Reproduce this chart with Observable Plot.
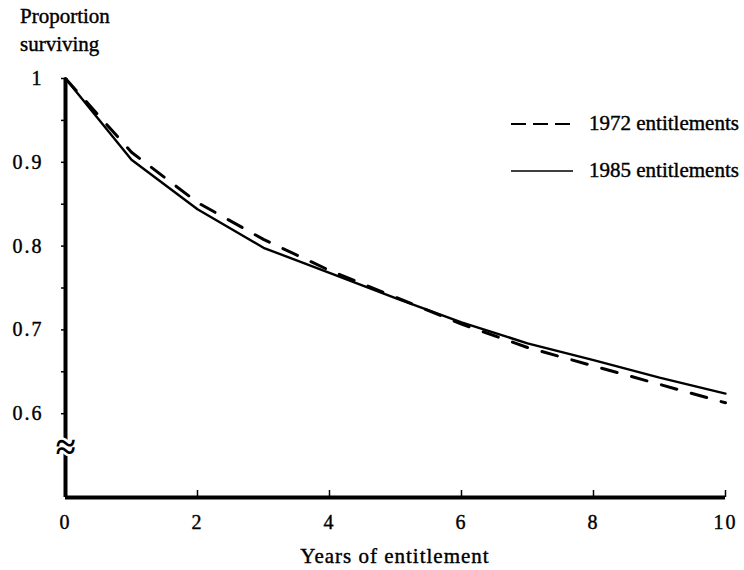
<!DOCTYPE html>
<html>
<head>
<meta charset="utf-8">
<script src="https://cdn.jsdelivr.net/npm/d3@7"></script>
<script src="https://cdn.jsdelivr.net/npm/@observablehq/plot@0.6"></script>
<style>
  html, body { margin: 0; padding: 0; background: #fff; }
  #wrap { position: relative; width: 744px; height: 570px; font-family: "Liberation Serif", "DejaVu Serif", serif; color: #000; }
  .ov { position: absolute; white-space: nowrap; font-size: 21px; line-height: 1; -webkit-text-stroke: 0.4px #000; }
</style>
</head>
<body>
<div id="wrap"></div>
<script>
// ---- data ----
const years = [0, 1, 2, 3, 4, 5, 6, 7, 8, 9, 10];
const ent1972 = [1.0, 0.912, 0.852, 0.808, 0.771, 0.739, 0.707, 0.679, 0.657, 0.635, 0.613];
const ent1985 = [1.0, 0.903, 0.844, 0.798, 0.768, 0.738, 0.709, 0.684, 0.664, 0.643, 0.624];
const seriesNames = ["1972 entitlements", "1985 entitlements"];
const xTicks = [0, 2, 4, 6, 8, 10];
const yMajorTicks = [0.6, 0.7, 0.8, 0.9, 1];
const yMinorTicks = [0.65, 0.75, 0.85, 0.95];
const yBreak = [0.56];
const yTitle = ["Proportion", "surviving"];
const xTitle = "Years of entitlement";

const rows = [];
years.forEach((t, i) => {
  rows.push({year: t, value: ent1972[i], series: seriesNames[0]});
  rows.push({year: t, value: ent1985[i], series: seriesNames[1]});
});

const font = "Liberation Serif";
const fmtY = d => (d === 1 ? "1" : d.toFixed(1));

const chart = Plot.plot({
  width: 744,
  height: 570,
  marginLeft: 65,
  marginRight: 19,
  marginTop: 78,
  marginBottom: 73,
  style: {fontFamily: font, fontSize: "20px", background: "white", color: "black"},
  x: {domain: [0, 10]},
  y: {domain: [0.5, 1]},
  marks: [
    Plot.line(rows.filter(d => d.series === seriesNames[0]), {
      x: "year", y: "value", stroke: "black", strokeWidth: 3, strokeDasharray: "16,15", curve: "linear"
    }),
    Plot.line(rows.filter(d => d.series === seriesNames[1]), {
      x: "year", y: "value", stroke: "black", strokeWidth: 2.4, curve: "linear"
    }),
    Plot.axisY([...yMajorTicks, ...yMinorTicks], {
      tickSize: 4, tickPadding: 18, strokeWidth: 1.5,
      tickFormat: d => (yMajorTicks.includes(d) ? fmtY(d) : ""),
      fontSize: 20, fontFamily: font, label: null
    }),
    Plot.axisX(xTicks, {
      tickSize: 0, tickPadding: 17, fontSize: 20, fontFamily: font, label: null
    }),
    Plot.tickX(xTicks.slice(1), {x: d => d, stroke: "black", strokeWidth: 1.5, insetTop: 412}),
    Plot.ruleX([0], {stroke: "black", strokeWidth: 4}),
    Plot.ruleY([0.5], {stroke: "black", strokeWidth: 4}),
    Plot.text(yBreak, {
      x: 0, y: d => d, text: () => "≈", fontSize: 36, fontWeight: "bold", fontFamily: font,
      fill: "black", stroke: "white", strokeWidth: 5, paintOrder: "stroke"
    })
  ]
});

const wrap = document.getElementById("wrap");
wrap.appendChild(chart);

// letter-spaced tick labels like the original typesetting
d3.select(chart).selectAll('g[aria-label="y-axis tick label"] text, g[aria-label="x-axis tick label"] text')
  .attr("letter-spacing", "2px")
  .attr("stroke", "black").attr("stroke-width", 0.4);

// y-axis title (two lines, top-left)
const yt = document.createElement("div");
yt.className = "ov";
yt.style.left = "20px"; yt.style.top = "2px"; yt.style.lineHeight = "28px";
yt.innerHTML = yTitle.join("<br>");
wrap.appendChild(yt);

// x-axis title
const xt = document.createElement("div");
xt.className = "ov";
xt.style.left = "395px"; xt.style.top = "546px"; xt.style.transform = "translateX(-50%)";
xt.style.letterSpacing = "1px";
xt.textContent = xTitle;
wrap.appendChild(xt);

// legend
const legendY = [124, 171];
const dashes = ["15,7", null];
seriesNames.forEach((name, i) => {
  const s = d3.create("svg").attr("width", 64).attr("height", 6)
    .style("position", "absolute").style("left", "510px").style("top", (legendY[i] - 3) + "px");
  s.append("line").attr("x1", 1).attr("x2", 63).attr("y1", 3).attr("y2", 3)
    .attr("stroke", "black").attr("stroke-width", i === 0 ? 2 : 1.5)
    .attr("stroke-dasharray", dashes[i]);
  wrap.appendChild(s.node());
  const t = document.createElement("div");
  t.className = "ov";
  t.style.left = "589px"; t.style.top = (legendY[i] - 11) + "px";
  t.textContent = name;
  wrap.appendChild(t);
});
</script>
</body>
</html>
